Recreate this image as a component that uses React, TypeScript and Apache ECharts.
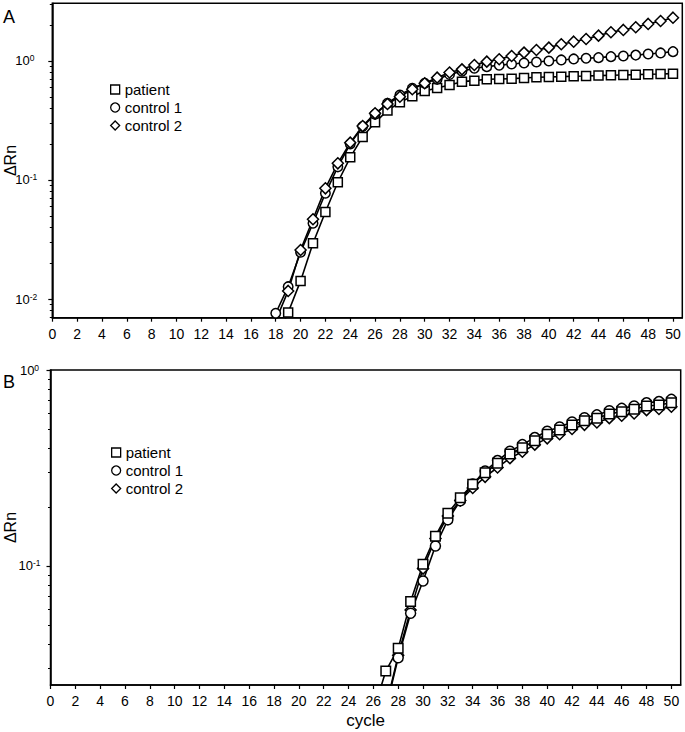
import React, { useEffect, useRef } from "react";
import * as echarts from "echarts";

const FONT = '"Liberation Sans", Arial, Helvetica, sans-serif';

// ---- data ----
const cyclesA = [18, 19, 20, 21, 22, 23, 24, 25, 26, 27, 28, 29, 30, 31, 32, 33, 34, 35, 36, 37, 38, 39, 40, 41, 42, 43, 44, 45, 46, 47, 48, 49, 50];
const patientA = [0.0045, 0.0077, 0.0142, 0.0294, 0.0538, 0.0957, 0.155, 0.23, 0.305, 0.383, 0.45, 0.505, 0.56, 0.593, 0.629, 0.67, 0.683, 0.702, 0.706, 0.71, 0.72, 0.73, 0.734, 0.738, 0.744, 0.748, 0.753, 0.758, 0.763, 0.767, 0.773, 0.777, 0.782];
const control1A = [0.0076, 0.0127, 0.0247, 0.0433, 0.0773, 0.129, 0.201, 0.281, 0.356, 0.441, 0.518, 0.589, 0.649, 0.701, 0.77, 0.82, 0.868, 0.896, 0.92, 0.944, 0.962, 0.98, 1.0, 1.02, 1.04, 1.053, 1.066, 1.087, 1.1, 1.12, 1.145, 1.168, 1.197];
const control2A = [0.0066, 0.0117, 0.0258, 0.0468, 0.0851, 0.138, 0.206, 0.284, 0.363, 0.435, 0.501, 0.578, 0.649, 0.724, 0.8, 0.85, 0.925, 0.987, 1.033, 1.1, 1.175, 1.237, 1.294, 1.381, 1.452, 1.53, 1.632, 1.742, 1.823, 1.92, 2.047, 2.168, 2.31];

const cyclesB = [26, 27, 28, 29, 30, 31, 32, 33, 34, 35, 36, 37, 38, 39, 40, 41, 42, 43, 44, 45, 46, 47, 48, 49, 50];
const patientB = [0.018, 0.0291, 0.038, 0.0658, 0.102, 0.142, 0.186, 0.223, 0.261, 0.299, 0.334, 0.373, 0.401, 0.436, 0.47, 0.494, 0.524, 0.551, 0.567, 0.597, 0.613, 0.63, 0.655, 0.663, 0.681];
const control1B = [null, 0.0186, 0.034, 0.0574, 0.0838, 0.1265, 0.172, 0.215, 0.262, 0.305, 0.345, 0.385, 0.416, 0.452, 0.487, 0.512, 0.543, 0.571, 0.59, 0.62, 0.637, 0.655, 0.68, 0.69, 0.708];
const control2B = [null, 0.019, 0.035, 0.0597, 0.097, 0.138, 0.18, 0.216, 0.25, 0.285, 0.318, 0.355, 0.383, 0.416, 0.448, 0.47, 0.5, 0.525, 0.54, 0.568, 0.584, 0.6, 0.624, 0.632, 0.65];

const xTickValues = [0, 2, 4, 6, 8, 10, 12, 14, 16, 18, 20, 22, 24, 26, 28, 30, 32, 34, 36, 38, 40, 42, 44, 46, 48, 50];
const decadeExpA = [-2, -1, 0];
const decadeExpB = [-1, 0];
const minorFactors = [2, 3, 4, 5, 6, 7, 8, 9];
const yRangeA = [0.00697, 3.05];
const yRangeB = [0.0247, 1];
const xRange = [0, 50.75];
const seriesNames = ["patient", "control 1", "control 2"];

function minorLogs(range: number[]) {
  const out: number[] = [];
  const lo = Math.floor(Math.log10(range[0]));
  const hi = Math.ceil(Math.log10(range[1]));
  for (let e = lo; e < hi; e++) for (const f of minorFactors) out.push(e + Math.log10(f));
  return out;
}

const mk = (name: string, cycles: number[], vals: (number | null)[], symbol: string, size: number, xi: number, yi: number) => ({
  type: "line",
  name,
  xAxisIndex: xi,
  yAxisIndex: yi,
  data: cycles.map((c, i) => [c, vals[i]]).filter((d) => d[1] != null),
  symbol,
  symbolSize: size,
  clip: true,
  silent: true,
  lineStyle: { color: "#000", width: 1.6 },
  itemStyle: { color: "#fff", borderColor: "#000", borderWidth: 1.5 },
  emphasis: { disabled: true },
});

const xAxisCfg = (gridIndex: number, withName: boolean) => ({
  type: "value",
  gridIndex,
  min: xRange[0],
  max: xRange[1],
  axisLine: { show: true, onZero: false, lineStyle: { color: "#000", width: 1.5 } },
  axisTick: { show: true, length: 4, customValues: xTickValues, lineStyle: { color: "#000", width: 1.2 } },
  axisLabel: { show: true, customValues: xTickValues, margin: 9, color: "#000", fontSize: 14, fontFamily: FONT },
  splitLine: { show: false },
  name: withName ? "cycle" : "",
  nameLocation: "middle",
  nameGap: 27,
  nameTextStyle: { fontSize: 17, color: "#000", fontFamily: FONT },
});

const logAxisCfg = (gridIndex: number, range: number[], nameGap: number) => ({
  type: "log",
  logBase: 10,
  gridIndex,
  position: "left",
  min: range[0],
  max: range[1],
  axisLine: { show: true, lineStyle: { color: "#000", width: 1.5 } },
  axisTick: { show: false },
  axisLabel: { show: false },
  splitLine: { show: false },
  minorTick: { show: false },
  name: "ΔRn",
  nameLocation: "middle",
  nameGap,
  nameTextStyle: { fontSize: 16, color: "#000", fontFamily: FONT },
});

const majorAxisCfg = (gridIndex: number, range: number[], exps: number[], align: string, margin: number) => ({
  type: "value",
  gridIndex,
  position: "left",
  min: Math.log10(range[0]),
  max: Math.log10(range[1]),
  axisLine: { show: false },
  axisTick: { show: true, length: 4, customValues: exps, lineStyle: { color: "#000", width: 1.2 } },
  axisLabel: {
    show: true,
    customValues: exps,
    align,
    margin,
    formatter: (v: number) => `{b|10}{s|${Math.round(v)}}`,
    rich: {
      b: { fontSize: 13, lineHeight: 14, color: "#000", fontFamily: FONT },
      s: { fontSize: 8.5, lineHeight: 8.5, verticalAlign: "top", color: "#000", fontFamily: FONT },
    },
  },
  splitLine: { show: false },
});

const minorAxisCfg = (gridIndex: number, range: number[]) => ({
  type: "value",
  gridIndex,
  position: "left",
  min: Math.log10(range[0]),
  max: Math.log10(range[1]),
  axisLine: { show: false },
  axisTick: { show: true, length: 2.5, customValues: minorLogs(range), lineStyle: { color: "#000", width: 1 } },
  axisLabel: { show: false },
  splitLine: { show: false },
});

const legendCfg = (left: number, top: number) => ({
  orient: "vertical",
  left,
  top,
  padding: 0,
  itemWidth: 9,
  itemHeight: 9,
  itemGap: 3,
  selectedMode: false,
  data: [
    { name: seriesNames[0], icon: "rect" },
    { name: seriesNames[1], icon: "circle" },
    { name: seriesNames[2], icon: "diamond" },
  ],
  itemStyle: { color: "#fff", borderColor: "#000", borderWidth: 1.3 },
  textStyle: { fontSize: 15, lineHeight: 15, color: "#000", fontFamily: FONT },
});

export default function App() {
  const ref = useRef<HTMLDivElement>(null);
  useEffect(() => {
    if (!ref.current) return;
    const chart = echarts.init(ref.current, undefined, { renderer: "svg" });
    const option: any = {
      animation: false,
      backgroundColor: "#fff",
      textStyle: { fontFamily: FONT },
      grid: [
        { left: 52.3, right: 2.7, top: 3.3, height: 314.4, show: true, borderColor: "#000", borderWidth: 1.5, containLabel: false, outerBoundsMode: "none" },
        { left: 50.5, right: 4.3, top: 370, height: 315, show: true, borderColor: "#000", borderWidth: 1.5, containLabel: false, outerBoundsMode: "none" },
      ],
      xAxis: [xAxisCfg(0, false), xAxisCfg(1, true)],
      yAxis: [
        logAxisCfg(0, yRangeA, 34),
        majorAxisCfg(0, yRangeA, decadeExpA, "left", 37),
        minorAxisCfg(0, yRangeA),
        logAxisCfg(1, yRangeB, 32),
        majorAxisCfg(1, yRangeB, decadeExpB, "center", 21),
        minorAxisCfg(1, yRangeB),
      ],
      legend: [legendCfg(110, 82), legendCfg(111, 445)],
      graphic: [
        { type: "text", left: 3, top: 8, style: { text: "A", fontSize: 18, fill: "#000", fontFamily: FONT } },
        { type: "text", left: 3, top: 373, style: { text: "B", fontSize: 18, fill: "#000", fontFamily: FONT } },
      ],
      series: [
        mk(seriesNames[0], cyclesA, patientA, "rect", 9, 0, 0),
        mk(seriesNames[1], cyclesA, control1A, "circle", 9.5, 0, 0),
        mk(seriesNames[2], cyclesA, control2A, "diamond", 11, 0, 0),
        mk(seriesNames[2], cyclesB, control2B, "diamond", 11, 1, 3),
        mk(seriesNames[1], cyclesB, control1B, "circle", 10, 1, 3),
        mk(seriesNames[0], cyclesB, patientB, "rect", 9.5, 1, 3),
      ],
    };
    chart.setOption(option);
    return () => chart.dispose();
  }, []);
  return (
    <div
      ref={ref}
      style={{ position: "absolute", left: 0, top: 0, width: 685, height: 732, background: "#fff" }}
    />
  );
}
